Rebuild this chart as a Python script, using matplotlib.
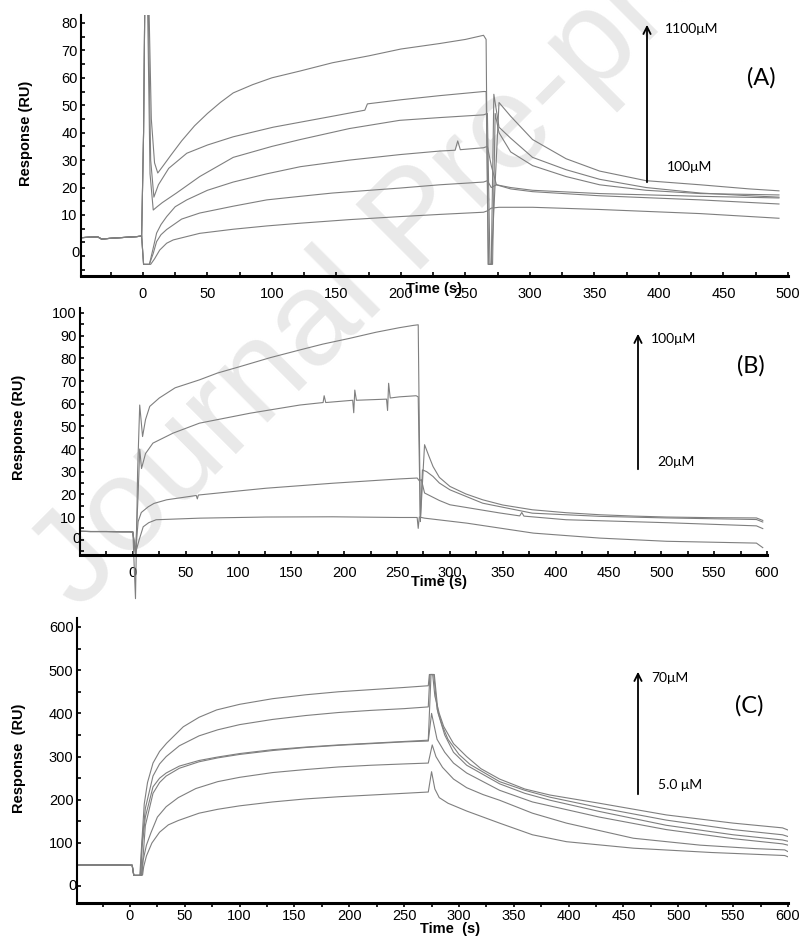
import matplotlib
matplotlib.use("Agg")
import matplotlib.pyplot as plt

W, H = 812, 939

# ---- panel A (100 .. 1100 uM) : time (s), response (RU) ----
a_base_t = [-48, -42, -35, -32, -25, -15, -5, -1]
a_base_v = [1.7, 1.9, 2.0, 1.2, 1.5, 1.8, 2.1, 2.3]

a1_t = [0.5, 1.5, 4.5, 6.5, 9, 11.5, 15, 22, 30, 40, 50, 60, 70, 85, 100, 122, 147, 175, 200, 230, 250, 264,
        266, 267.5, 270, 276, 285, 302, 328, 354, 390, 432, 470, 493]
a1_v = [40, 90, 90, 45, 29, 25.3, 27.5, 32, 37, 42.5, 47, 51, 54.5, 57.5, 60, 62.5, 65.5, 68, 70.5, 72.5, 74, 75.5,
        74, -8, -8, 51, 46, 37.5, 30.5, 26, 22.5, 21, 19.5, 18.8]

a2_t = [0.5, 1.5, 4, 6, 8.5, 12, 20, 34, 50, 70, 101, 147, 172, 174, 200, 230, 264, 266, 268, 270, 272, 276,
        285, 302, 328, 354, 390, 432, 470, 493]
a2_v = [40, 90, 90, 30, 16.5, 21, 27, 32.5, 35.5, 38.5, 42, 46, 48.2, 50.5, 52, 53.5, 55, 55, -8, -8, 54, 42,
        38, 31, 26.5, 23, 20, 18, 17, 16.5]

a3_t = [0.5, 1.5, 3.5, 5.5, 8, 11, 15, 26, 44, 70, 100, 122, 160, 199, 230, 264, 267, 269, 271, 273, 276,
        285, 302, 328, 354, 390, 432, 470, 493]
a3_v = [40, 90, 90, 25, 11.8, 13, 14.5, 18, 24, 31, 35, 37.5, 41.5, 44.5, 45.5, 46.5, 47, -8, -8, 47, 40,
        33, 28, 24, 21, 19, 17.8, 17.5, 17.3]

a4_t = [0.5, 2, 5, 8, 10.6, 14, 18.4, 25, 34, 50, 70, 96, 122, 160, 199, 230, 242, 244, 246, 264, 267, 270,
        274, 285, 302, 354, 432, 493]
a4_v = [-8, -8, -8, -2, 3.4, 6.5, 9.4, 13, 15.5, 19, 22, 25, 27.6, 30, 32, 33.3, 33.6, 37, 33.8, 34.5, 35, 28,
        21, 20, 19, 17.8, 16.8, 16.2]

a5_t = [0.5, 2, 5, 8, 10.6, 14, 18.4, 30, 44, 70, 96, 122, 147, 199, 230, 264, 267, 270, 274, 285, 302, 354,
        432, 493]
a5_v = [-8, -8, -8, -4, 0.3, 2.8, 4.7, 8.5, 10.7, 13.2, 15.5, 16.8, 18, 19.8, 21, 22, 22.5, 20, 21, 19.5, 18.5,
        17, 15.5, 14]

a6_t = [0.5, 2, 6, 9, 13, 18.4, 23.5, 44, 70, 96, 122, 160, 199, 230, 264, 267, 270, 276, 302, 354, 432, 493]
a6_v = [-8, -8, -8, -6, -2.8, -0.3, 0.9, 3.3, 4.8, 6, 7, 8.3, 9.4, 10.2, 11, 11.5, 12.5, 12.8, 12.8, 12, 10.5,
        8.8]

# ---- panel B (20 .. 100 uM) ----
b_base_t = [-50, -40, -25, -10, -3]
b_base_v = [3.7, 3.6, 3.6, 3.5, 3.5]

b1_t = [0, 2.5, 4.5, 6.5, 9.2, 12, 16, 25, 40, 63, 80, 101, 130, 158, 180, 205, 230, 252, 265, 270, 272, 274,
        276, 280, 284, 290, 300, 315, 331, 350, 378, 410, 442, 475, 505, 550, 590, 596]
b1_v = [3.4, -26, 30, 59.4, 45.5, 53, 58.8, 62.5, 67, 70.5, 73.5, 76.3, 80.3, 83.7, 86.3, 88.8, 91.5, 93.5, 94.5,
        94.8, 8, 25, 41.9, 37, 32.3, 27.5, 23.5, 20.2, 17.6, 15.3, 13.2, 11.9, 11, 10.4, 10, 9.7, 9.6, 8.5]

b2_t = [0, 2.5, 5, 6.5, 8.2, 12, 19, 38, 63, 111, 158, 180, 181, 182.5, 208, 209, 210, 211.5, 240, 241, 242,
        243.5, 252, 268, 270, 272, 274, 278, 284, 290, 300, 331, 378, 442, 505, 590, 596]
b2_v = [3.4, -6, 20, 40, 31.4, 38, 42.6, 47, 51.4, 55.8, 59.4, 60.5, 63.5, 60.5, 61.5, 56, 66, 61.5, 62, 57, 69,
        62.5, 63, 63.5, 63, 8, 30.8, 30, 27.9, 25, 22, 16.1, 11.7, 10.3, 9.6, 8.9, 7.8]

b3_t = [0, 2.5, 5, 8, 14.5, 20, 32, 60, 61, 62, 100, 126, 189, 252, 269, 271, 273, 276, 290, 300, 347, 366,
        368, 370, 410, 505, 590, 596]
b3_v = [3.4, -6, 8, 12, 14.5, 16, 17.6, 19.5, 18, 19.7, 21.5, 22.7, 24.9, 26.8, 27.2, 26, 26.5, 20.6, 17.3,
        15.4, 11.8, 10.5, 12, 10.4, 8.8, 7.5, 6.1, 4.9]

b4_t = [0, 2.5, 6, 9.8, 15, 22, 63, 126, 189, 252, 269, 270, 271, 276, 316, 379, 442, 505, 590, 596]
b4_v = [3.4, -6, 0, 5.7, 7.5, 8.8, 9.5, 10, 10.1, 9.8, 9.8, 5, 10, 9.5, 7.3, 2.9, 0.7, -0.7, -1.5, -3.5]

# ---- panel C (5.0 .. 70 uM) ----
c_base_t = [-48, -30, -10, 2]
c_base_v = [49, 49, 49, 48.5]

c1_t = [3.5, 8, 9, 11, 13, 16, 21, 27, 33.4, 48.6, 63, 79, 100, 130, 160, 190, 220, 250, 272, 273, 276, 278,
        282, 286, 295, 307, 320, 337, 360, 383, 428, 489, 550, 595, 600]
c1_v = [25, 25, 26, 110, 190, 240, 285, 312, 331, 369, 391, 408, 421, 434, 443, 450, 455, 460, 464, 490, 490,
        440, 400, 370, 330, 300, 272, 248, 225, 211, 192, 165, 146, 135, 130]

c2_t = [3.5, 8.5, 9.5, 11, 14, 21, 27, 33, 45, 63, 80, 100, 130, 160, 190, 220, 250, 272, 273.5, 277, 280, 285,
        290, 300, 310, 337, 360, 383, 428, 489, 550, 595, 600]
c2_v = [25, 25, 26, 100, 180, 255, 283, 300, 325, 348, 362, 374, 386, 395, 402, 407, 411, 415, 490, 490, 410,
        370, 340, 305, 282, 242, 222, 206, 182, 153, 131, 119, 115]

c3_t = [3.5, 9, 10, 11, 14, 21, 27, 33, 45, 63, 80, 100, 130, 160, 190, 220, 250, 272, 274.5, 277.5, 281, 287,
        295, 307, 337, 360, 383, 428, 489, 550, 595, 600]
c3_v = [25, 25, 26, 90, 160, 230, 250, 262, 278, 291, 299, 307, 316, 322, 327, 331, 335, 338, 490, 490, 400,
        350, 310, 280, 237, 215, 199, 173, 141, 119, 107, 104]

c4_t = [3.5, 9.5, 10.5, 12, 14, 21, 27, 33, 45, 63, 80, 100, 130, 160, 190, 220, 250, 272, 275, 280, 287, 295,
        307, 337, 367, 428, 489, 550, 595, 600]
c4_v = [25, 25, 26, 70, 140, 215, 240, 255, 273, 288, 297, 305, 314, 321, 326, 330, 334, 336, 400, 340, 310,
        285, 262, 222, 195, 160, 131, 110, 98, 95]

c5_t = [3.5, 10, 11, 12, 15, 19, 25, 33, 44, 60, 80, 100, 130, 160, 190, 220, 250, 272, 275.6, 279, 285, 295,
        307, 322, 337, 367, 398, 459, 520, 570, 597, 600]
c5_v = [25, 25, 26, 60, 95, 123, 160, 184, 205, 226, 242, 252, 263, 270, 276, 280, 283, 285, 327, 300, 275, 248,
        228, 212, 199, 169, 146, 111, 95, 87, 84, 80]

c6_t = [3.5, 10.5, 11.5, 12.5, 15, 20, 27, 35, 44, 63, 80, 100, 130, 160, 190, 220, 250, 272, 275, 278, 282,
        290, 307, 337, 367, 398, 459, 530, 597, 600]
c6_v = [25, 25, 26, 45, 70, 100, 125, 142, 152, 169, 178, 186, 195, 202, 207, 211, 215, 218, 265, 225, 205,
        192, 174, 146, 119, 103, 88, 78, 71, 68]

LINE = "#7f7f7f"
TICK_FONT = "Liberation Sans"
NOTE_FONT = ["Lato", "DejaVu Sans"]


def fx(x):
    return x / W


def fy(y):
    return 1 - y / H


def make_axes(left, top, right, bottom):
    return fig.add_axes([fx(left), fy(bottom), (right - left) / W, (bottom - top) / H])


def style(ax, xlim, ylim, xmax_lab, ystep, ylab_max, ytick_step, xdir, zero_v, zero_dx):
    ax.set_facecolor("none")
    ax.set_xlim(*xlim)
    ax.set_ylim(*ylim)
    for s in ("top", "right"):
        ax.spines[s].set_visible(False)
    ax.spines["bottom"].set_linewidth(2.2)
    ax.spines["left"].set_linewidth(1.5)
    ax.set_xticks(list(range(-25, xmax_lab + 1, 25)))
    ax.set_xticklabels([str(v) if v >= 0 and v % 50 == 0 else "" for v in range(-25, xmax_lab + 1, 25)])
    yt = [v for v in range(-100, ylab_max + 1, ytick_step) if ylim[0] <= v <= ylim[1]]
    ax.set_yticks(yt)
    ax.set_yticklabels([str(v) if v > 0 and v % ystep == 0 else "" for v in yt])
    ax.tick_params(axis="x", direction=xdir, length=3, width=1.2, pad=8 if xdir == "in" else 1.5,
                   labelsize=10.5)
    ax.tick_params(axis="y", direction="in", length=3, width=1.2, pad=2.5, labelsize=10.5)
    for lab in ax.get_xticklabels() + ax.get_yticklabels():
        lab.set_fontfamily(TICK_FONT)
    ax.annotate("0", xy=(0, zero_v), xycoords=("axes fraction", "data"), xytext=(zero_dx, 0),
                textcoords="offset points", ha="center", va="center", fontsize=10.5,
                family=TICK_FONT, annotation_clip=False)


def curve(ax, base_t, base_v, t, v, clip=True):
    ax.plot(base_t + t, base_v + v, color=LINE, lw=0.8, clip_on=clip, solid_joinstyle="round")


def arrow_note(x, y_bot, y_top, top_lab, top_x, top_y, bot_lab, bot_x, bot_y, tag, tag_x, tag_y):
    fig.add_artist(matplotlib.patches.FancyArrowPatch(
        (fx(x), fy(y_bot)), (fx(x), fy(y_top)), transform=fig.transFigure,
        arrowstyle="->", mutation_scale=13, lw=1.3, color="black"))
    fig.text(fx(top_x), fy(top_y), top_lab, ha="left", va="center", fontsize=10, family=NOTE_FONT)
    fig.text(fx(bot_x), fy(bot_y), bot_lab, ha="left", va="center", fontsize=10, family=NOTE_FONT)
    fig.text(fx(tag_x), fy(tag_y), tag, ha="left", va="center", fontsize=17, family=NOTE_FONT)


fig = plt.figure(figsize=(W / 100, H / 100), dpi=100)

# watermark behind everything
fig.text(fx(78), fy(612), "Journal Pre-proof", fontsize=96, color="#e9e9e9", rotation=45,
         rotation_mode="anchor", ha="left", va="baseline", family="Liberation Sans", zorder=-1)

# panel A
axA = make_axes(81, 15, 788, 276)
for t, v in [(a1_t, a1_v), (a2_t, a2_v), (a3_t, a3_v), (a4_t, a4_v), (a5_t, a5_v), (a6_t, a6_v)]:
    curve(axA, a_base_t, a_base_v, t, v)
style(axA, (-48, 500), (-12.25, 82.9), 500, 10, 80, 5, "in", -3.9, -3.6)

# panel B
axB = make_axes(80, 308, 767, 555)
for t, v in [(b1_t, b1_v), (b2_t, b2_v), (b3_t, b3_v), (b4_t, b4_v)]:
    curve(axB, b_base_t, b_base_v, t, v, clip=False)
style(axB, (-50, 600), (-6.75, 102.2), 600, 10, 100, 5, "in", 0.5, -2.2)

# panel C
axC = make_axes(77, 618, 788, 903)
for t, v in [(c1_t, c1_v), (c2_t, c2_v), (c3_t, c3_v), (c4_t, c4_v), (c5_t, c5_v), (c6_t, c6_v)]:
    curve(axC, c_base_t + [3.5], c_base_v + [25], t, v)
style(axC, (-48.3, 600), (-38.9, 620.8), 600, 100, 600, 50, "out", 0, -2.9)

# axis titles
for txt, x, y in [("Response (RU)", 26, 133), ("Response (RU)", 19, 427), ("Response  (RU)", 19, 758)]:
    fig.text(fx(x), fy(y), txt, rotation=90, ha="center", va="center", fontsize=10.5,
             fontweight="bold", family=TICK_FONT)
for txt, x, y in [("Time (s)", 434, 289), ("Time (s)", 439, 582), ("Time  (s)", 450, 929)]:
    fig.text(fx(x), fy(y), txt, ha="center", va="center", fontsize=10.5, fontweight="bold",
             family=TICK_FONT)

arrow_note(647, 185, 22, "1100\u03bcM", 665, 29, "100\u03bcM", 667, 167, "(A)", 747, 78)
arrow_note(638, 472, 331, "100\u03bcM", 651, 339, "20\u03bcM", 657, 462, "(B)", 737, 366)
arrow_note(638, 797, 669, "70\u03bcM", 651, 678, "5.0 \u03bcM", 658, 785, "(C)", 735, 706)

fig.savefig("out.png", dpi=100)
